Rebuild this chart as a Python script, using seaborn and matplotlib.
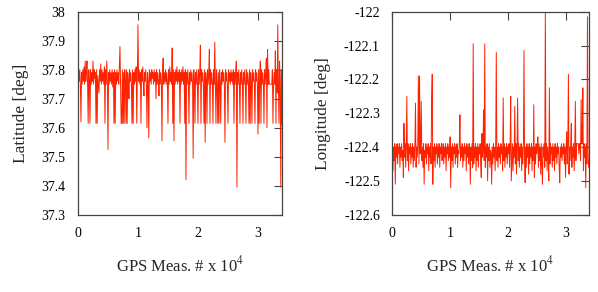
import numpy as np
import pandas as pd
import matplotlib
matplotlib.use('Agg')
import matplotlib.pyplot as plt
import seaborn as sns
from matplotlib.ticker import FuncFormatter, MultipleLocator

latitude = [
    37.75, 37.80, 37.76, 37.80, 37.75, 37.62, 37.79, 37.75, 37.80, 37.76, 37.81, 37.75, 37.83, 37.76, 37.79, 37.83, 37.75, 37.615, 37.80, 37.76,
    37.615, 37.80, 37.75, 37.79, 37.76, 37.83, 37.75, 37.80, 37.77, 37.79, 37.615, 37.80, 37.615, 37.78, 37.75, 37.72, 37.80, 37.76, 37.82, 37.75,
    37.80, 37.76, 37.79, 37.75, 37.81, 37.615, 37.80, 37.75, 37.83, 37.76, 37.525, 37.79, 37.75, 37.80, 37.76, 37.79, 37.75, 37.80, 37.74, 37.79,
    37.615, 37.80, 37.615, 37.79, 37.75, 37.80, 37.76, 37.79, 37.75, 37.81, 37.88, 37.75, 37.615, 37.615, 37.80, 37.615, 37.79, 37.615, 37.80, 37.76,
    37.615, 37.80, 37.615, 37.79, 37.75, 37.70, 37.80, 37.76, 37.79, 37.75, 37.615, 37.80, 37.615, 37.79, 37.75, 37.80, 37.76, 37.81, 37.615, 37.79,
    37.955, 37.76, 37.80, 37.75, 37.79, 37.615, 37.80, 37.76, 37.81, 37.75, 37.71, 37.79, 37.76, 37.80, 37.75, 37.60, 37.79, 37.76, 37.565, 37.80,
    37.76, 37.79, 37.75, 37.80, 37.77, 37.79, 37.75, 37.80, 37.76, 37.79, 37.70, 37.80, 37.75, 37.79, 37.76, 37.71, 37.80, 37.75, 37.79, 37.76,
    37.555, 37.80, 37.84, 37.75, 37.79, 37.76, 37.80, 37.75, 37.79, 37.76, 37.615, 37.80, 37.75, 37.81, 37.76, 37.79, 37.75, 37.875, 37.615, 37.80,
    37.555, 37.79, 37.75, 37.80, 37.76, 37.81, 37.75, 37.79, 37.76, 37.80, 37.615, 37.79, 37.75, 37.80, 37.76, 37.81, 37.75, 37.79, 37.615, 37.80,
    37.42, 37.79, 37.75, 37.80, 37.76, 37.615, 37.79, 37.75, 37.80, 37.76, 37.79, 37.75, 37.495, 37.80, 37.76, 37.615, 37.79, 37.75, 37.80, 37.76,
    37.615, 37.80, 37.75, 37.79, 37.885, 37.615, 37.80, 37.76, 37.79, 37.75, 37.615, 37.80, 37.55, 37.79, 37.76, 37.615, 37.80, 37.75, 37.79, 37.87,
    37.615, 37.80, 37.75, 37.79, 37.76, 37.615, 37.80, 37.75, 37.895, 37.76, 37.615, 37.80, 37.75, 37.615, 37.79, 37.615, 37.80, 37.76, 37.615, 37.79,
    37.75, 37.80, 37.76, 37.79, 37.75, 37.55, 37.80, 37.76, 37.79, 37.75, 37.615, 37.80, 37.76, 37.79, 37.75, 37.80, 37.76, 37.79, 37.75, 37.80,
    37.615, 37.79, 37.75, 37.80, 37.83, 37.395, 37.79, 37.75, 37.80, 37.76, 37.615, 37.79, 37.75, 37.80, 37.76, 37.615, 37.79, 37.75, 37.80, 37.76,
    37.615, 37.80, 37.75, 37.79, 37.76, 37.615, 37.80, 37.615, 37.79, 37.75, 37.615, 37.80, 37.76, 37.79, 37.75, 37.615, 37.80, 37.76, 37.79, 37.75,
    37.578, 37.80, 37.615, 37.79, 37.83, 37.615, 37.80, 37.75, 37.79, 37.76, 37.615, 37.80, 37.75, 37.79, 37.84, 37.60, 37.87, 37.75, 37.80, 37.75,
    37.75, 37.75, 37.75, 37.75, 37.80, 37.615, 37.75, 37.79, 37.75, 37.865, 37.615, 37.80, 37.72, 37.955, 37.75, 37.615, 37.83, 37.76, 37.395, 37.80, 37.61,
]

longitude = [
    -122.39, -122.47, -122.40, -122.44, -122.39, -122.51, -122.40, -122.43, -122.39, -122.45, -122.40, -122.42, -122.39, -122.46, -122.40, -122.43, -122.39, -122.44, -122.41, -122.49,
    -122.33, -122.43, -122.39, -122.46, -122.40, -122.25, -122.44, -122.39, -122.47, -122.40, -122.42, -122.39, -122.45, -122.40, -122.43, -122.39, -122.46, -122.40, -122.44, -122.39,
    -122.27, -122.46, -122.40, -122.43, -122.39, -122.19, -122.45, -122.19, -122.42, -122.39, -122.265, -122.44, -122.40, -122.46, -122.39, -122.51, -122.41, -122.43, -122.39, -122.45,
    -122.40, -122.42, -122.39, -122.47, -122.40, -122.43, -122.39, -122.45, -122.26, -122.185, -122.51, -122.40, -122.44, -122.39, -122.46, -122.40, -122.42, -122.39, -122.45, -122.40,
    -122.43, -122.39, -122.46, -122.40, -122.42, -122.39, -122.44, -122.41, -122.39, -122.45, -122.40, -122.43, -122.39, -122.47, -122.40, -122.42, -122.39, -122.44, -122.40, -122.43,
    -122.37, -122.52, -122.40, -122.44, -122.39, -122.46, -122.40, -122.42, -122.39, -122.45, -122.40, -122.43, -122.39, -122.46, -122.41, -122.42, -122.39, -122.305, -122.44, -122.40,
    -122.43, -122.39, -122.46, -122.40, -122.44, -122.39, -122.42, -122.40, -122.47, -122.39, -122.43, -122.40, -122.45, -122.39, -122.42, -122.51, -122.40, -122.44, -122.39, -122.46,
    -122.095, -122.45, -122.40, -122.43, -122.39, -122.47, -122.40, -122.44, -122.39, -122.46, -122.40, -122.42, -122.39, -122.45, -122.49, -122.36, -122.43, -122.39, -122.29, -122.44,
    -122.095, -122.46, -122.40, -122.43, -122.39, -122.50, -122.40, -122.44, -122.39, -122.46, -122.41, -122.42, -122.51, -122.40, -122.45, -122.39, -122.43, -122.40, -122.47, -122.39,
    -122.12, -122.44, -122.40, -122.46, -122.39, -122.43, -122.40, -122.45, -122.39, -122.42, -122.40, -122.47, -122.255, -122.44, -122.39, -122.46, -122.40, -122.43, -122.39, -122.45,
    -122.40, -122.42, -122.39, -122.46, -122.40, -122.25, -122.50, -122.44, -122.39, -122.47, -122.40, -122.43, -122.28, -122.45, -122.39, -122.48, -122.40, -122.255, -122.44, -122.39,
    -122.46, -122.40, -122.43, -122.39, -122.47, -122.40, -122.45, -122.39, -122.115, -122.44, -122.505, -122.40, -122.46, -122.39, -122.43, -122.40, -122.48, -122.39, -122.45, -122.40,
    -122.43, -122.39, -122.47, -122.40, -122.44, -122.275, -122.49, -122.40, -122.45, -122.39, -122.42, -122.40, -122.37, -122.46, -122.39, -122.44, -122.40, -122.48, -122.39, -122.45,
    -122.51, -122.40, -122.43, -122.39, -122.46, -122.00, -122.44, -122.39, -122.47, -122.40, -122.43, -122.50, -122.225, -122.45, -122.39, -122.42, -122.40, -122.46, -122.39, -122.44,
    -122.40, -122.47, -122.39, -122.43, -122.40, -122.45, -122.39, -122.42, -122.40, -122.46, -122.505, -122.40, -122.43, -122.39, -122.44, -122.40, -122.42, -122.39, -122.45, -122.40,
    -122.49, -122.40, -122.355, -122.45, -122.39, -122.185, -122.48, -122.40, -122.44, -122.39, -122.33, -122.46, -122.40, -122.43, -122.39, -122.47, -122.40, -122.265, -122.44, -122.39,
    -122.39, -122.39, -122.39, -122.42, -122.39, -122.39, -122.44, -122.26, -122.39, -122.39, -122.225, -122.47, -122.39, -122.43, -122.40, -122.52, -122.39, -122.45, -122.015, -122.41, -122.46,
]

lat_ticks = [37.3, 37.4, 37.5, 37.6, 37.7, 37.8, 37.9, 38.0]
lon_ticks = [-122.6, -122.5, -122.4, -122.3, -122.2, -122.1, -122.0]

meas = np.arange(len(latitude)) * 100 / 1e4   # GPS measurement number / 10^4
df = pd.DataFrame({'meas': meas, 'lat': latitude, 'lon': longitude})

sns.set_theme(style='white')
plt.rcParams['font.family'] = ['Liberation Serif', 'DejaVu Serif']
plt.rcParams['mathtext.fontset'] = 'stix'

line_color = '#ff2200'
fig = plt.figure(figsize=(5.98, 2.92), dpi=100)
ax1 = fig.add_axes([0.1304, 0.2647, 0.3411, 0.6952])
ax2 = fig.add_axes([0.6562, 0.2647, 0.3281, 0.6952])

sns.lineplot(data=df, x='meas', y='lat', ax=ax1, color=line_color, linewidth=0.7, estimator=None)
sns.lineplot(data=df, x='meas', y='lon', ax=ax2, color=line_color, linewidth=0.7, estimator=None)

fmt = FuncFormatter(lambda v, p: f'{v:g}')
for ax, ticks, label in [(ax1, lat_ticks, 'Latitude [deg]'), (ax2, lon_ticks, 'Longitude [deg]')]:
    ax.set_xlim(0, 3.4)
    ax.set_ylim(ticks[0], ticks[-1])
    ax.set_yticks(ticks)
    ax.xaxis.set_major_locator(MultipleLocator(1))
    ax.xaxis.set_major_formatter(fmt)
    ax.yaxis.set_major_formatter(fmt)
    ax.tick_params(direction='in', top=True, right=True, length=6, width=0.8,
                   color='#444444', labelsize=10, labelcolor='black')
    ax.tick_params(axis='x', pad=9)
    ax.tick_params(axis='y', pad=9)
    for s in ax.spines.values():
        s.set_color('#444444')
        s.set_linewidth(0.9)
    ax.set_xlabel('GPS Meas. # x 10$^4$', fontsize=12, labelpad=11)
    ax.set_ylabel(label, fontsize=12.5, labelpad=9)
    ax.grid(False)

fig.savefig('out.png', dpi=100)
